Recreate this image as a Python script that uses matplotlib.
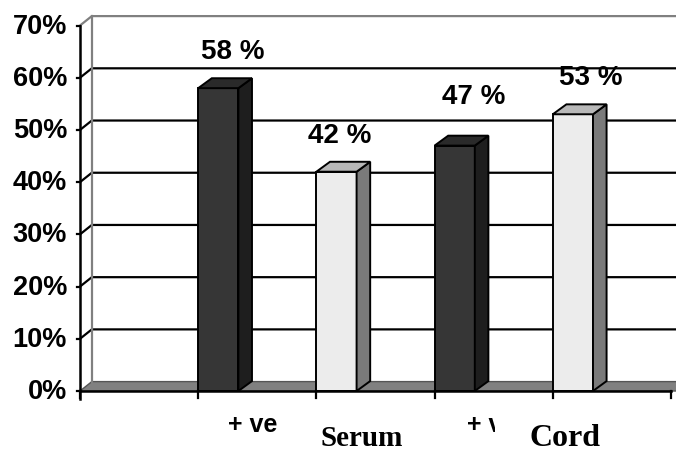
import matplotlib
matplotlib.use("Agg")
import matplotlib.pyplot as plt
from matplotlib.patches import Polygon, Rectangle

# values
values = [58, 42, 47, 53]
value_labels = ["58 %", "42 %", "47 %", "53 %"]
bar_kind = ["dark", "light", "dark", "light"]
cat_labels = ["+ ve", "Serum", "+ ve", "Cord"]
yticks = [0, 10, 20, 30, 40, 50, 60, 70]

colors = {
    "dark": ("#363636", "#1e1e1e", "#2a2a2a"),
    "light": ("#ececec", "#7a7a7a", "#b8b8b8"),
}

# 3d look: wall depth and bar depth in data units
wdx, wdy = 0.10, 1.8
bdx, bdy = 0.115, 1.9
bw = 0.34

fig = plt.figure(figsize=(6.76, 4.52), dpi=100)
ax = fig.add_axes([80/676, 60/452, 591/676, 365.5/452])
ax.set_xlim(0, 5)
ax.set_ylim(0, 70)
ax.axis("off")

# floor
ax.add_patch(Polygon([(0, 0), (5.2, 0), (5.2 + wdx, wdy), (wdx, wdy)],
                     closed=True, fc="#808080", ec="#555555", lw=1.0,
                     clip_on=False, zorder=1))

# gridlines on the back wall
for t in yticks[1:]:
    c = "#808080" if t == 70 else "black"
    ax.plot([0, wdx, 5.3], [t, t + wdy, t + wdy], color=c, lw=1.6,
            clip_on=False, zorder=2, solid_capstyle="butt")
ax.plot([wdx, wdx], [wdy, 70 + wdy], color="#808080", lw=1.6,
        clip_on=False, zorder=2)

# bars
for i, v in enumerate(values):
    x0 = i + 1
    front, side, top = colors[bar_kind[i]]
    ax.add_patch(Rectangle((x0, 0), bw, v, fc=front, ec="black", lw=1.4,
                           clip_on=False, zorder=4))
    ax.add_patch(Polygon([(x0 + bw, 0), (x0 + bw + bdx, bdy),
                          (x0 + bw + bdx, v + bdy), (x0 + bw, v)],
                         closed=True, fc=side, ec="black", lw=1.4,
                         clip_on=False, zorder=4))
    ax.add_patch(Polygon([(x0, v), (x0 + bdx, v + bdy),
                          (x0 + bw + bdx, v + bdy), (x0 + bw, v)],
                         closed=True, fc=top, ec="black", lw=1.4,
                         clip_on=False, zorder=4))

# value labels above bars
lab_dx = [0.12, 0.03, 0.16, 0.15]
lab_dy = [7.1, 7.0, 9.5, 7.2]
for i, v in enumerate(values):
    ax.text(i + 1 + bw / 2 + lab_dx[i], v + lab_dy[i], value_labels[i],
            ha="center", va="center", fontsize=20, fontweight="bold",
            family="Liberation Sans", zorder=6)

# front axes
ax.plot([0, 0], [-1.5, 70], color="black", lw=1.8, clip_on=False, zorder=5)
ax.plot([0, 5], [0, 0], color="black", lw=1.8, clip_on=False, zorder=5)
for k in range(6):
    ax.plot([k, k], [0, -1.4], color="black", lw=1.6, clip_on=False, zorder=5)
for t in yticks:
    ax.plot([-0.025, 0], [t, t], color="black", lw=1.6, clip_on=False, zorder=5)
    ax.text(-0.11, t, f"{t}%", ha="right", va="center", fontsize=19.5,
            fontweight="bold", family="Liberation Sans")

# category labels (the second "+ ve" is partly hidden behind "Cord")
ax.text(1.46, -6.3, cat_labels[0], ha="center", va="center", fontsize=18,
        fontweight="bold", family="Liberation Sans", zorder=6)
ax.text(2.38, -9.0, cat_labels[1], ha="center", va="center", fontsize=21,
        fontweight="bold", family="Liberation Serif", zorder=6)
ax.text(3.27, -6.3, cat_labels[2], ha="left", va="center", fontsize=18,
        fontweight="bold", family="Liberation Sans", zorder=6)
ax.add_patch(Rectangle((3.51, -14), 1.0, 11.2, fc="white", ec="none",
                       clip_on=False, zorder=7))
ax.text(4.10, -9.0, cat_labels[3], ha="center", va="center", fontsize=23,
        fontweight="bold", family="Liberation Serif", zorder=8)

fig.savefig("out.png", dpi=100)
